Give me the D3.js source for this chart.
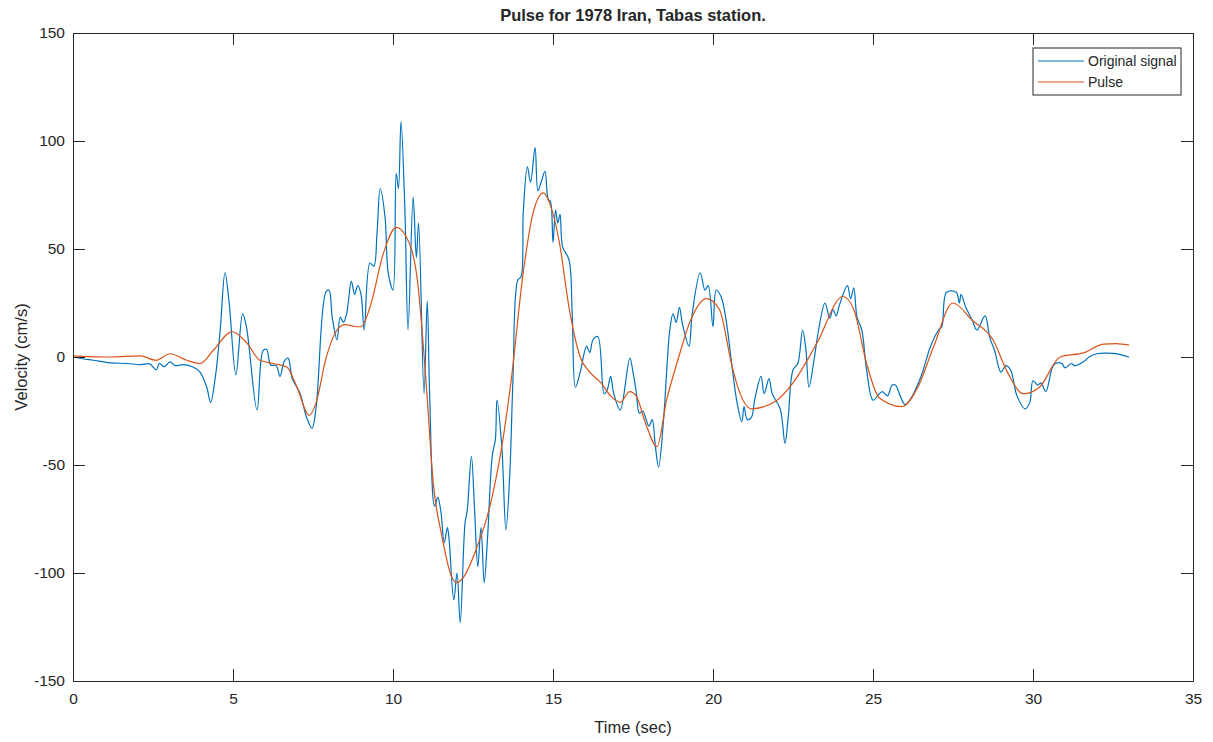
<!DOCTYPE html>
<html>
<head>
<meta charset="utf-8">
<script src="https://cdn.jsdelivr.net/npm/d3@7"></script>
<style>
  body { margin: 0; background: #fff; }
  text { font-family: "Liberation Sans", Arial, sans-serif; fill: #262626; }
</style>
</head>
<body>
<div id="chart"></div>
<script>
// original signal: time (sec) and velocity (cm/s)
let sigTime = [0, 0.3, 0.63, 1.16, 1.7, 2.1, 2.4, 2.6, 2.7, 2.85, 3.03, 3.2, 3.45, 3.75, 3.97, 4.18, 4.3, 4.45, 4.6, 4.75,
    4.88, 5.09, 5.3, 5.42, 5.75, 5.94, 6.05, 6.18, 6.35, 6.47, 6.6, 6.72, 6.85, 7.0, 7.1, 7.3, 7.47, 7.6, 7.9, 8.0,
    8.1, 8.25, 8.35, 8.45, 8.55, 8.7, 8.8, 8.9, 9.0, 9.1, 9.28, 9.4, 9.5, 9.6, 9.75, 9.85, 10.0, 10.1, 10.17, 10.25,
    10.37, 10.47, 10.63, 10.73, 10.8, 10.97, 11.07, 11.15, 11.3, 11.4, 11.5, 11.6, 11.7, 11.75, 11.9, 12.0, 12.1, 12.25, 12.32, 12.45,
    12.55, 12.65, 12.75, 12.85, 12.95, 13.1, 13.2, 13.25, 13.4, 13.53, 13.65, 13.75, 13.9, 14.0, 14.07, 14.2, 14.3, 14.44, 14.53, 14.65,
    14.75, 14.85, 14.92, 15.0, 15.08, 15.15, 15.22, 15.3, 15.5, 15.6, 15.7, 15.85, 16.05, 16.15, 16.25, 16.4, 16.6, 16.7, 16.8, 16.9,
    17.1, 17.4, 17.5, 17.6, 17.7, 17.8, 18.0, 18.1, 18.2, 18.3, 18.45, 18.65, 18.75, 18.85, 18.95, 19.05, 19.25, 19.35, 19.6, 19.75,
    19.85, 20.0, 20.1, 20.25, 20.4, 20.6, 20.75, 20.9, 20.97, 21.07, 21.2, 21.3, 21.5, 21.6, 21.75, 21.85, 22.1, 22.25, 22.35, 22.5,
    22.65, 22.8, 22.9, 23.0, 23.15, 23.3, 23.5, 23.65, 23.75, 23.85, 23.95, 24.2, 24.3, 24.4, 24.5, 24.65, 24.8, 25.0, 25.2, 25.3,
    25.45, 25.6, 25.7, 25.85, 26.0, 26.15, 26.5, 26.8, 27.05, 27.15, 27.3, 27.6, 27.7, 27.75, 27.9, 28.1, 28.25, 28.5, 28.65, 28.8,
    29.0, 29.15, 29.3, 29.5, 29.75, 29.9, 30.0, 30.15, 30.25, 30.4, 30.6, 30.7, 30.9, 31.0, 31.2, 31.3, 31.6, 31.75, 32.0, 32.3,
    32.6, 33.0];
let sigVel = [0, -0.8, -1.5, -2.7, -3, -3.5, -3.2, -6, -3, -4.5, -2.3, -4, -3.5, -4.6, -7, -14, -21, -9, 12.5, 39,
    25, -8.3, 20, 14, -24.5, 3, 3.5, -3.7, -4, -9, -2, -0.5, -10, -14, -17, -28, -33, -23, 30, 31,
    18.5, 8, 18.5, 16, 20, 35, 29, 33, 29, 12.5, 43.5, 42, 57, 78, 65, 39, 31, 85, 78, 109,
    69, 12.5, 74, 46, 62, -17, 26, -20, -69, -65, -72, -86, -79, -84, -112.5, -100, -123, -77, -71, -46,
    -71, -97, -79, -104.5, -85, -46, -38, -20, -41.5, -80, -54, -10, 35.6, 37, 66.7, 88, 81, 97, 77, 82,
    86, 73, 72, 53, 68, 62, 66, 51, 45, 20, -14, -7, 5, 2, 8, 9.5, -17, -15, -9, -17,
    -24.5, -0.5, -7, -16, -26, -25, -32, -29, -41.5, -51, -30, 12.5, 20, 16, 23, 15, 5, 20, 39, 31,
    33, 14, 31, 28, 18, -5, -21, -30, -23, -29, -28, -20, -9, -17, -10, -17, -24, -40, -28, -6,
    -3, 12.5, 4, -14, -2, 12.5, 25, 18, 22, 19, 24, 33, 27, 32, 18.5, 12.5, -6, -20, -17, -16,
    -18, -13, -13, -18, -22, -20, -9, 5, 12.5, 14, 30, 30, 25, 29, 23, 17, 12.5, 19, 9, 3,
    -7, -4, -6, -18, -24, -21, -11, -13, -12, -16, -5, -3, -3, -5, -3, -4, -2, 0, 1.5, 1.8,
    1.6, 0];

// extracted pulse
let pulseTime = [0, 0.5, 1.16, 2.1, 2.6, 3.03, 3.55, 3.97, 4.38, 4.97, 5.43, 5.84, 6.25, 6.68, 7.0, 7.38, 7.6, 7.9, 8.25, 8.5,
    8.87, 9.0, 9.28, 9.7, 10.1, 10.4, 10.75, 11.06, 11.25, 11.53, 11.84, 12.0, 12.2, 12.6, 13.03, 13.4, 13.7, 14.06, 14.4, 14.7,
    14.9, 15.2, 15.5, 15.85, 16.15, 16.5, 16.8, 17.1, 17.4, 17.6, 17.9, 18.25, 18.55, 18.9, 19.3, 19.8, 20.2, 20.6, 20.8, 21.2,
    22.0, 22.5, 23.25, 24.06, 24.4, 24.8, 25.2, 25.9, 26.4, 26.9, 27.5, 28.1, 28.75, 29.2, 29.7, 30.2, 30.85, 31.6, 32.2, 32.6,
    33.0];
let pulseVel = [0.5, 0.2, 0, 0.5, -1.5, 1.5, -1.5, -3, 3, 11.7, 6.5, -1.5, -3, -4.6, -14, -27, -21, -1, 12.5, 15,
    14, 14, 23, 48, 60, 56, 37, -17, -57, -83, -102, -104.5, -102, -89, -69, -41.5, -10, 38, 68, 76,
    71, 53, 23, 0, -7, -12, -18, -21, -16, -18, -31, -41.5, -20, -1.5, 17, 27, 22, -4.6, -15, -24,
    -20, -12, 6.5, 28, 22, -3, -19, -23, -14, 5, 25, 17, 8, -7, -17, -14, 0, 2, 6, 6.2,
    5.5];

let xTicks = [0, 5, 10, 15, 20, 25, 30, 35];
let yTicks = [-150, -100, -50, 0, 50, 100, 150];
let seriesNames = ["Original signal", "Pulse"];
let seriesColors = ["#0072BD", "#D95319"];

let margin = { left: 73, top: 33, right: 20, bottom: 61 },
    width = 1213,
    height = 742,
    plotW = width - margin.left - margin.right,
    plotH = height - margin.top - margin.bottom;

let svg = d3.select("#chart")
    .append("svg")
    .attr("width", width)
    .attr("height", height);

let xScale = d3.scaleLinear().domain([0, 35]).range([0, plotW]);
let yScale = d3.scaleLinear().domain([-150, 150]).range([plotH, 0]);

let plot = svg.append("g")
    .attr("transform", `translate(${margin.left}, ${margin.top})`);

plot.append("defs").append("clipPath")
    .attr("id", "clip")
    .append("rect")
    .attr("width", plotW)
    .attr("height", plotH);

let line = d3.line()
    .x(d => xScale(d[0]))
    .y(d => yScale(d[1]));

let sigData = sigTime.map((t, i) => [t, sigVel[i]]);
let pulseData = pulseTime.map((t, i) => [t, pulseVel[i]]);

plot.append("path")
    .datum(sigData)
    .attr("clip-path", "url(#clip)")
    .attr("fill", "none")
    .attr("stroke", seriesColors[0])
    .attr("stroke-width", 1.2)
    .attr("stroke-linejoin", "round")
    .attr("d", line.curve(d3.curveCatmullRom.alpha(0.5)));

plot.append("path")
    .datum(pulseData)
    .attr("clip-path", "url(#clip)")
    .attr("fill", "none")
    .attr("stroke", seriesColors[1])
    .attr("stroke-width", 1.2)
    .attr("d", line.curve(d3.curveMonotoneX));

// axes, ticks inside on all four sides like matlab's box
let tickLen = 12;
let fmt = d => String(d); // plain hyphen minus, like matlab
let xAxis = d3.axisBottom(xScale).tickValues(xTicks).tickFormat(fmt).tickSizeInner(-tickLen).tickSizeOuter(0).tickPadding(12);
let xAxisTop = d3.axisTop(xScale).tickValues(xTicks).tickSizeInner(-tickLen).tickSizeOuter(0).tickFormat("");
let yAxis = d3.axisLeft(yScale).tickValues(yTicks).tickFormat(fmt).tickSizeInner(-tickLen).tickSizeOuter(0).tickPadding(8);
let yAxisRight = d3.axisRight(yScale).tickValues(yTicks).tickSizeInner(-tickLen).tickSizeOuter(0).tickFormat("");

plot.append("g").attr("transform", `translate(0, ${plotH})`).call(xAxis);
plot.append("g").call(xAxisTop);
plot.append("g").call(yAxis);
plot.append("g").attr("transform", `translate(${plotW}, 0)`).call(yAxisRight);

plot.selectAll(".domain").attr("stroke", "#262626");
plot.selectAll(".tick line").attr("stroke", "#262626");
plot.selectAll(".tick text")
    .style("font-family", "'Liberation Sans', Arial, sans-serif")
    .style("font-size", "15.5px")
    .attr("fill", "#262626");

svg.append("text")
    .attr("x", margin.left + plotW / 2)
    .attr("y", 21)
    .attr("text-anchor", "middle")
    .style("font-size", "16.5px")
    .style("font-weight", "bold")
    .text("Pulse for 1978 Iran, Tabas station.");

svg.append("text")
    .attr("x", margin.left + plotW / 2)
    .attr("y", 733)
    .attr("text-anchor", "middle")
    .style("font-size", "16.5px")
    .text("Time (sec)");

svg.append("text")
    .attr("transform", "rotate(-90)")
    .attr("x", -(margin.top + plotH / 2))
    .attr("y", 27)
    .attr("text-anchor", "middle")
    .style("font-size", "16.5px")
    .text("Velocity (cm/s)");

// legend
let legend = svg.append("g").attr("transform", "translate(1033, 48)");
legend.append("rect")
    .attr("width", 148)
    .attr("height", 47)
    .attr("fill", "#fff")
    .attr("stroke", "#262626")
    .attr("stroke-width", 1);

seriesNames.forEach((name, i) => {
    let yy = 13 + i * 21;
    legend.append("line")
        .attr("x1", 5).attr("x2", 51)
        .attr("y1", yy).attr("y2", yy)
        .attr("stroke", seriesColors[i])
        .attr("stroke-width", 1.2);
    legend.append("text")
        .attr("x", 55)
        .attr("y", yy + 5)
        .style("font-size", "14px")
        .text(name);
});
</script>
</body>
</html>
